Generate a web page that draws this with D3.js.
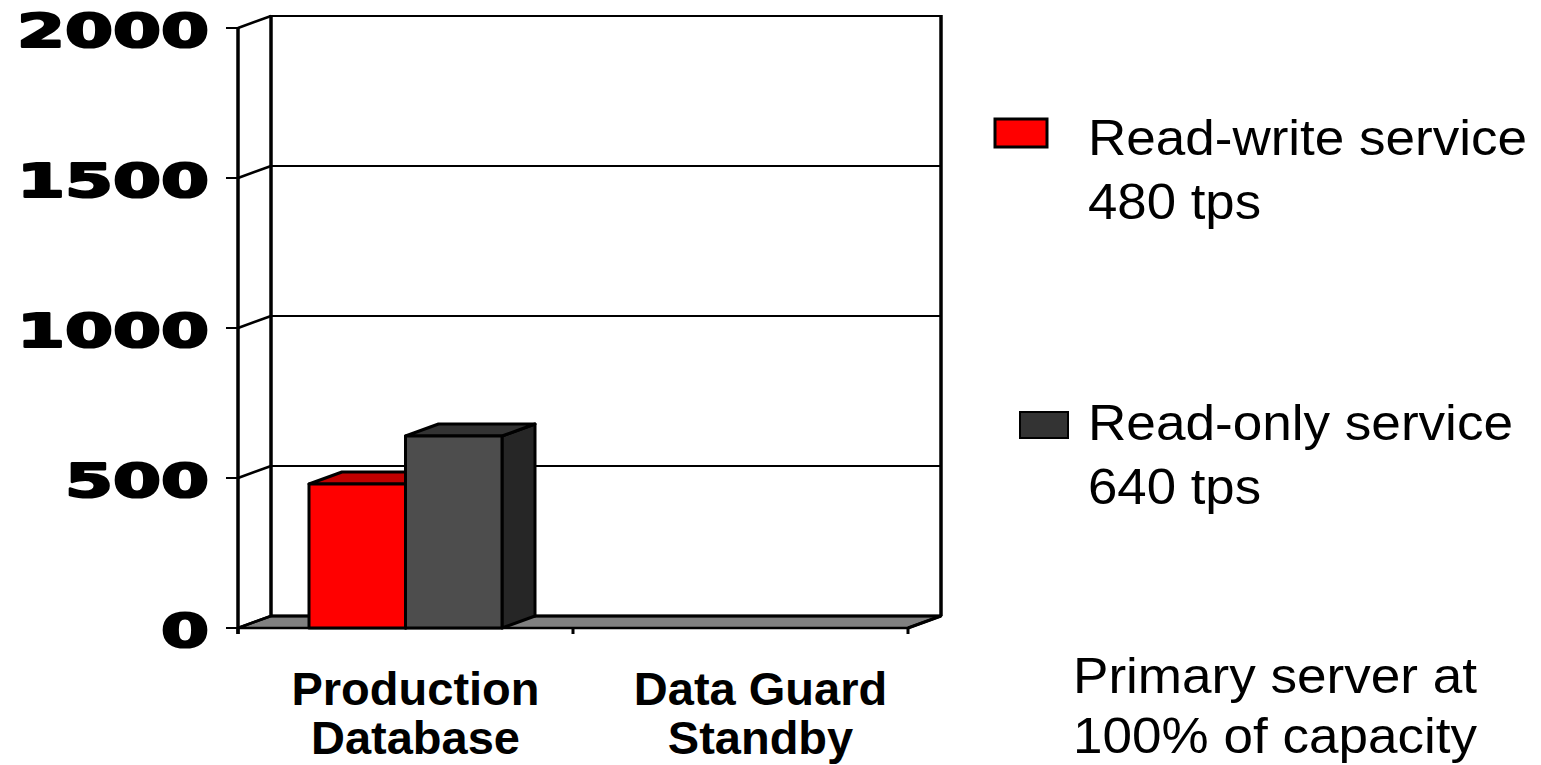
<!DOCTYPE html>
<html>
<head>
<meta charset="utf-8">
<script src="https://cdn.jsdelivr.net/npm/d3@7/dist/d3.min.js"></script>
<style>
  html, body { margin: 0; padding: 0; background: #ffffff; }
  svg { display: block; }
</style>
</head>
<body>
<svg id="chart" width="1541" height="765"></svg>
<script>
// ---- data ----
const categories = ["Production Database", "Data Guard Standby"];
const categoryLines = [["Production", "Database"], ["Data Guard", "Standby"]];
const seriesNames = ["Read-write service", "Read-only service"];
const seriesRates = ["480 tps", "640 tps"];
const readWrite = [480, 0];
const readOnly = [640, 0];
const yTicks = [0, 500, 1000, 1500, 2000];
const yTickLabels = ["0", "500", "1000", "1500", "2000"];
const noteLines = ["Primary server at", "100% of capacity"];

// ---- layout / style ----
const W = 1541, H = 765;
const depthX = 33, depthY = -12;          // 3-D depth offset of the plot box
const seriesColors = [
  { front: "#ff0000", top: "#c00000", side: "#990000", legend: "#ff0000" },
  { front: "#4d4d4d", top: "#333333", side: "#262626", legend: "#333333" }
];
const floorColor = "#808080";

const svg = d3.select("#chart");
svg.append("rect").attr("width", W).attr("height", H).attr("fill", "#fff");

const y = d3.scaleLinear().domain([0, 2000]).range([628, 28]);
const x = d3.scaleBand().domain(categories).range([238, 908]);
const xs = d3.scaleBand().domain(seriesNames).range([71, 264]);

const x0 = x.range()[0], x1 = x.range()[1];
const line = d3.line();

// floor
svg.append("path")
  .attr("d", line([[x0, y(0)], [x1, y(0)], [x1 + depthX, y(0) + depthY], [x0 + depthX, y(0) + depthY]]) + "Z")
  .attr("fill", floorColor)
  .attr("stroke", "#000").attr("stroke-width", 2.5).attr("stroke-linejoin", "round");

// back wall gridlines
const grid = svg.append("g");
grid.selectAll("line.grid").data(yTicks).join("line")
  .attr("x1", x0 + depthX).attr("x2", x1 + depthX)
  .attr("y1", d => y(d) + depthY).attr("y2", d => y(d) + depthY)
  .attr("stroke", "#000").attr("stroke-width", d => d === 0 ? 3 : 2);

// side-wall diagonals from the front axis to the back wall
grid.selectAll("line.diag").data(yTicks).join("line")
  .attr("x1", x0).attr("y1", d => y(d))
  .attr("x2", x0 + depthX).attr("y2", d => y(d) + depthY)
  .attr("stroke", "#000").attr("stroke-width", 2.5);

// back wall vertical edges
[x0 + depthX, x1 + depthX].forEach(px => {
  svg.append("line")
    .attr("x1", px).attr("x2", px)
    .attr("y1", y(2000) + depthY - 1).attr("y2", y(0) + depthY)
    .attr("stroke", "#000").attr("stroke-width", 3.5);
});
// right floor edge
svg.append("line")
  .attr("x1", x1).attr("y1", y(0))
  .attr("x2", x1 + depthX).attr("y2", y(0) + depthY)
  .attr("stroke", "#000").attr("stroke-width", 3);

// bars (front face, top face, right side face)
const values = [readWrite, readOnly];
categories.forEach((cat, ci) => {
  seriesNames.forEach((s, si) => {
    const v = values[si][ci];
    if (v <= 0) return;
    const bx0 = x(cat) + xs(s);
    const bx1 = bx0 + xs.bandwidth();
    const by = y(v), b0 = y(0);
    const c = seriesColors[si];
    const g = svg.append("g").attr("stroke", "#000").attr("stroke-width", 3).attr("stroke-linejoin", "round");
    g.append("path")
      .attr("d", line([[bx1, by], [bx1 + depthX, by + depthY], [bx1 + depthX, b0 + depthY], [bx1, b0]]) + "Z")
      .attr("fill", c.side);
    g.append("path")
      .attr("d", line([[bx0, by], [bx1, by], [bx1 + depthX, by + depthY], [bx0 + depthX, by + depthY]]) + "Z")
      .attr("fill", c.top);
    g.append("rect")
      .attr("x", bx0).attr("y", by)
      .attr("width", bx1 - bx0).attr("height", b0 - by)
      .attr("fill", c.front);
  });
});

// front value axis
const axisG = svg.append("g");
axisG.append("line")
  .attr("x1", x0).attr("x2", x0)
  .attr("y1", y(2000)).attr("y2", y(0) + 6)
  .attr("stroke", "#000").attr("stroke-width", 3.5);
axisG.selectAll("line.tick").data(yTicks).join("line")
  .attr("x1", x0 - 12).attr("x2", x0)
  .attr("y1", d => y(d)).attr("y2", d => y(d))
  .attr("stroke", "#000").attr("stroke-width", 2);
axisG.selectAll("text").data(yTicks).join("text")
  .attr("x", 209).attr("y", d => y(d) + 3)
  .attr("text-anchor", "end")
  .attr("dominant-baseline", "central")
  .attr("font-family", "'DejaVu Sans', sans-serif")
  .attr("font-weight", 900)
  .attr("font-size", 46)
  .attr("fill", "#000")
  .attr("stroke", "#000")
  .attr("stroke-width", 2.2)
  .attr("stroke-linejoin", "round")
  .attr("textLength", (d, i) => yTickLabels[i].length * 48)
  .attr("lengthAdjust", "spacingAndGlyphs")
  .text((d, i) => yTickLabels[i]);

// category axis ticks
const edges = categories.map(c => x(c)).concat([x1]);
svg.selectAll("line.ctick").data(edges).join("line")
  .attr("x1", d => d).attr("x2", d => d)
  .attr("y1", y(0)).attr("y2", y(0) + 6)
  .attr("stroke", "#000").attr("stroke-width", 3);

// category labels
categories.forEach((cat, ci) => {
  const cx = x(cat) + x.bandwidth() / 2 + 10 + ci * 10;
  const t = svg.append("text")
    .attr("text-anchor", "middle")
    .attr("font-family", "'Liberation Sans', Arial, sans-serif")
    .attr("font-weight", "bold")
    .attr("font-size", 47);
  categoryLines[ci].forEach((ln, li) => {
    t.append("tspan").attr("x", cx).attr("y", 705 + li * 49).text(ln);
  });
});

// legend
const legend = svg.append("g")
  .attr("font-family", "'Liberation Sans', Arial, sans-serif")
  .attr("font-size", 50)
  .attr("fill", "#000");
const swatches = [
  { x: 995, y: 119, w: 52, h: 28, sw: 3 },
  { x: 1020, y: 412, w: 48, h: 26, sw: 2 }
];
const legendBase = [155, 440];
const legendWidths = [[439, 173], [425, 173]];
seriesNames.forEach((s, si) => {
  const sp = swatches[si];
  legend.append("rect")
    .attr("x", sp.x).attr("y", sp.y).attr("width", sp.w).attr("height", sp.h)
    .attr("fill", seriesColors[si].legend)
    .attr("stroke", "#000").attr("stroke-width", sp.sw);
  [s, seriesRates[si]].forEach((ln, li) => {
    legend.append("text")
      .attr("x", 1088).attr("y", legendBase[si] + li * 64)
      .attr("textLength", legendWidths[si][li])
      .attr("lengthAdjust", "spacingAndGlyphs")
      .text(ln);
  });
});

// footnote
noteLines.forEach((ln, li) => {
  legend.append("text")
    .attr("x", 1073).attr("y", 693 + li * 60)
    .attr("textLength", 404)
    .attr("lengthAdjust", "spacingAndGlyphs")
    .text(ln);
});
</script>
</body>
</html>
